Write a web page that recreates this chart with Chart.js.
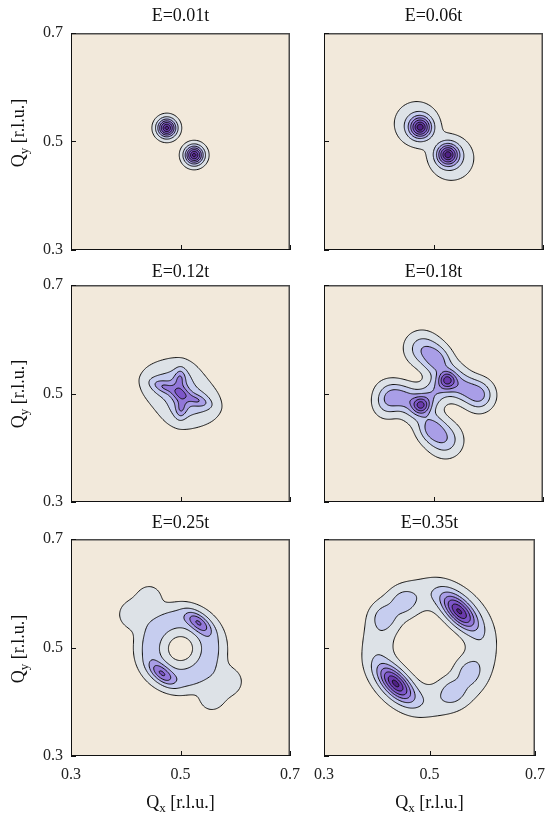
<!DOCTYPE html>
<html>
<head>
<meta charset="utf-8">
<title>Contours</title>
<script src="https://cdn.jsdelivr.net/npm/chart.js@4.4.1/dist/chart.umd.min.js"></script>
<style>
  html, body { margin: 0; padding: 0; background: #ffffff; }
  #figure { position: relative; width: 554px; height: 818px; }
  #figure canvas { position: absolute; left: 0; top: 0; }
</style>
</head>
<body>
<div id="figure"></div>
<script>
// captions and ticks
var panelTitles = ['E=0.01t', 'E=0.06t', 'E=0.12t', 'E=0.18t', 'E=0.25t', 'E=0.35t'];
var tickValues = [0.3, 0.5, 0.7];
// contour levels, and the fill used between them
var contourLevels = [0.06, 0.2, 0.36, 0.52, 0.68, 0.84, 0.96];
var levelColors = ['#f2e9db', '#dde2e7', '#c6cdef', '#a99ee7', '#9277d9', '#7d56c9', '#6a3aad', '#4f2185'];

// peaks: [Qx, Qy, height, width along, width across, angle in deg]
var peaks001 = [
    [0.475, 0.525, 1.0, 0.0115, 0.0115, 0],
    [0.525, 0.475, 1.0, 0.0115, 0.0115, 0]
];
var peaks006 = [
    [0.476, 0.526, 0.85, 0.013, 0.013, 0],
    [0.526, 0.476, 0.85, 0.013, 0.013, 0],
    [0.469, 0.533, 0.2, 0.026, 0.026, 0],
    [0.533, 0.469, 0.2, 0.026, 0.026, 0]
];
var peaks012 = [
    [0.5, 0.5, 0.2, 0.045, 0.035, -45],
    [0.466, 0.516, 0.16, 0.022, 0.016, -20],
    [0.534, 0.484, 0.16, 0.022, 0.016, -20],
    [0.5, 0.524, 0.16, 0.018, 0.015, 85],
    [0.5, 0.476, 0.16, 0.018, 0.015, 85],
    [0.5, 0.5, 0.3, 0.011, 0.009, -30],
    [0.499, 0.529, 0.22, 0.012, 0.0065, 85],
    [0.501, 0.471, 0.22, 0.012, 0.0065, 85],
    [0.47, 0.512, 0.22, 0.016, 0.0065, -20],
    [0.53, 0.488, 0.22, 0.016, 0.0065, -20]
];
var peaks018 = [
    [0.525, 0.525, 0.45, 0.01, 0.01, 0],
    [0.525, 0.525, 0.22, 0.02, 0.02, 0],
    [0.48, 0.582, 0.3, 0.02, 0.019, -40],
    [0.506, 0.562, 0.4, 0.018, 0.016, -55],
    [0.558, 0.509, 0.38, 0.024, 0.016, -25],
    [0.585, 0.496, 0.28, 0.016, 0.018, -10],
    [0.477, 0.478, 0.45, 0.01, 0.01, 0],
    [0.477, 0.478, 0.22, 0.02, 0.02, 0],
    [0.521, 0.415, 0.3, 0.02, 0.019, -60],
    [0.497, 0.435, 0.4, 0.018, 0.016, -55],
    [0.443, 0.493, 0.38, 0.024, 0.016, -25],
    [0.416, 0.485, 0.28, 0.016, 0.018, -10],
    [0.501, 0.501, 0.25, 0.03, 0.014, 45]
];
var peaks025 = [
    [0.466, 0.452, 0.42, 0.018, 0.009, -40],
    [0.533, 0.546, 0.42, 0.018, 0.009, -40],
    [0.416, 0.561, 0.15, 0.02, 0.019, 0],
    [0.443, 0.592, 0.13, 0.016, 0.016, 0],
    [0.584, 0.437, 0.15, 0.02, 0.019, 0],
    [0.557, 0.406, 0.13, 0.016, 0.016, 0]
];
var peaks035 = [
    [0.556, 0.566, 0.85, 0.028, 0.014, -45],
    [0.436, 0.434, 0.85, 0.028, 0.014, -45],
    [0.413, 0.556, 0.17, 0.016, 0.016, 0],
    [0.452, 0.584, 0.17, 0.016, 0.016, 0],
    [0.572, 0.456, 0.17, 0.016, 0.016, 0],
    [0.543, 0.42, 0.17, 0.016, 0.016, 0]
];
// rings: [Qx, Qy, radius, width, height]
var rings025 = [[0.5, 0.498, 0.054, 0.018, 0.29]];
var rings035 = [[0.5, 0.5, 0.098, 0.021, 0.15]];

var panelPeaks = [peaks001, peaks006, peaks012, peaks018, peaks025, peaks035];
var panelRings = [[], [], [], [], rings025, rings035];

// page layout (pixels)
var colLeft = [71, 324];
var rowTop = [33, 285, 539];
var panelWidth = 219;
var panelHeight = 217;
var yAxisBox = 40;
var xAxisBox = 30;
var titleBaseline = [21, 277, 528];
var yTitleCenter = [133, 394, 649];
var xTitleBaseline = 808;
var serif = '"Liberation Serif", "Times New Roman", serif';
var gridSize = 201;

function preparePeaks(peaks) {
    return peaks.map(function (p) {
        var a = p[5] * Math.PI / 180;
        return { x: p[0], y: p[1], h: p[2], ka: 0.5 / (p[3] * p[3]), kb: 0.5 / (p[4] * p[4]), c: Math.cos(a), s: Math.sin(a) };
    });
}

function fieldValue(peaks, rings, qx, qy) {
    var v = 0;
    for (var k = 0; k < peaks.length; k++) {
        var p = peaks[k];
        var dx = qx - p.x, dy = qy - p.y;
        var u = dx * p.c + dy * p.s;
        var w = -dx * p.s + dy * p.c;
        v += p.h * Math.exp(-(u * u * p.ka + w * w * p.kb));
    }
    for (var r = 0; r < rings.length; r++) {
        var g = rings[r];
        var d = Math.hypot(qx - g[0], qy - g[1]) - g[2];
        v += g[4] * Math.exp(-0.5 * d * d / (g[3] * g[3]));
    }
    return v;
}

function levelIndex(v) {
    var i = 0;
    while (i < contourLevels.length && v >= contourLevels[i]) i++;
    return i;
}

// marching squares, segments chained into polylines
function traceContours(peaks, rings) {
    var n = gridSize, q0 = 0.3, step = 0.4 / (n - 1);
    var vals = new Float64Array(n * n);
    for (var j = 0; j < n; j++) {
        for (var i = 0; i < n; i++) {
            vals[j * n + i] = fieldValue(peaks, rings, q0 + i * step, q0 + j * step);
        }
    }
    var out = [];
    contourLevels.forEach(function (L) {
        var segs = [];
        var byKey = {};
        function edgePoint(e) {
            var i = e[1], j = e[2], a, b, t;
            if (e[0] === 'h') {
                a = vals[j * n + i]; b = vals[j * n + i + 1]; t = (L - a) / (b - a);
                return { x: q0 + (i + t) * step, y: q0 + j * step };
            }
            a = vals[j * n + i]; b = vals[(j + 1) * n + i]; t = (L - a) / (b - a);
            return { x: q0 + i * step, y: q0 + (j + t) * step };
        }
        function addSeg(e1, e2) {
            var k1 = e1.join(','), k2 = e2.join(',');
            var idx = segs.length;
            segs.push({ k1: k1, k2: k2, p1: edgePoint(e1), p2: edgePoint(e2), used: false });
            (byKey[k1] = byKey[k1] || []).push(idx);
            (byKey[k2] = byKey[k2] || []).push(idx);
        }
        for (var j = 0; j < n - 1; j++) {
            for (var i = 0; i < n - 1; i++) {
                var v00 = vals[j * n + i], v10 = vals[j * n + i + 1];
                var v11 = vals[(j + 1) * n + i + 1], v01 = vals[(j + 1) * n + i];
                var c00 = v00 >= L, c10 = v10 >= L, c11 = v11 >= L, c01 = v01 >= L;
                var bottom = ['h', i, j], right = ['v', i + 1, j], top = ['h', i, j + 1], left = ['v', i, j];
                var cross = [];
                if (c00 !== c10) cross.push(bottom);
                if (c10 !== c11) cross.push(right);
                if (c01 !== c11) cross.push(top);
                if (c00 !== c01) cross.push(left);
                if (cross.length === 2) {
                    addSeg(cross[0], cross[1]);
                } else if (cross.length === 4) {
                    var centreHigh = (v00 + v10 + v11 + v01) / 4 >= L;
                    if (c00 === centreHigh) { addSeg(bottom, right); addSeg(top, left); }
                    else { addSeg(bottom, left); addSeg(right, top); }
                }
            }
        }
        function nextSeg(key) {
            var list = byKey[key] || [];
            for (var m = 0; m < list.length; m++) if (!segs[list[m]].used) return list[m];
            return -1;
        }
        segs.forEach(function (s) {
            if (s.used) return;
            s.used = true;
            var line = [s.p1, s.p2];
            var key = s.k2, nx;
            while ((nx = nextSeg(key)) >= 0) {
                var t = segs[nx]; t.used = true;
                if (t.k1 === key) { line.push(t.p2); key = t.k2; } else { line.push(t.p1); key = t.k1; }
            }
            key = s.k1;
            while ((nx = nextSeg(key)) >= 0) {
                var t2 = segs[nx]; t2.used = true;
                if (t2.k1 === key) { line.unshift(t2.p2); key = t2.k2; } else { line.unshift(t2.p1); key = t2.k1; }
            }
            line.forEach(function (p) { out.push(p); });
            out.push({ x: NaN, y: NaN });
        });
    });
    return out;
}

function hexToRgb(h) {
    return [parseInt(h.substr(1, 2), 16), parseInt(h.substr(3, 2), 16), parseInt(h.substr(5, 2), 16)];
}
var levelRgb = levelColors.map(hexToRgb);

function drawQLabel(ctx, sub, cx, baseline) {
    ctx.textAlign = 'left';
    ctx.textBaseline = 'alphabetic';
    var big = '18px ' + serif, small = '13px ' + serif;
    ctx.font = big; var wq = ctx.measureText('Q').width; var wr = ctx.measureText(' [r.l.u.]').width;
    ctx.font = small; var ws = ctx.measureText(sub).width;
    var x = cx - (wq + ws + wr) / 2;
    ctx.font = big; ctx.fillText('Q', x, baseline);
    ctx.font = small; ctx.fillText(sub, x + wq, baseline + 4);
    ctx.font = big; ctx.fillText(' [r.l.u.]', x + wq + ws, baseline);
}

function panelPlugin(idx, col, row) {
    var peaks = preparePeaks(panelPeaks[idx]);
    var rings = panelRings[idx];
    return {
        id: 'panel' + idx,
        beforeDatasetsDraw: function (chart) {
            var area = chart.chartArea, xs = chart.scales.x, ys = chart.scales.y, ctx = chart.ctx;
            var left = Math.round(area.left), top = Math.round(area.top);
            var w = Math.round(area.right) - left, h = Math.round(area.bottom) - top;
            var img = ctx.createImageData(w, h);
            for (var py = 0; py < h; py++) {
                var qy = ys.getValueForPixel(top + py + 0.5);
                for (var px = 0; px < w; px++) {
                    var qx = xs.getValueForPixel(left + px + 0.5);
                    var c = levelRgb[levelIndex(fieldValue(peaks, rings, qx, qy))];
                    var o = (py * w + px) * 4;
                    img.data[o] = c[0]; img.data[o + 1] = c[1]; img.data[o + 2] = c[2]; img.data[o + 3] = 255;
                }
            }
            ctx.putImageData(img, left, top);
        },
        afterDatasetsDraw: function (chart) {
            var a = chart.chartArea, ctx = chart.ctx, xs = chart.scales.x, ys = chart.scales.y;
            ctx.save();
            ctx.strokeStyle = '#4a4a4a';
            ctx.lineWidth = 1.5;
            ctx.beginPath();
            ctx.moveTo(a.left, a.top + 0.75); ctx.lineTo(a.right - 0.75, a.top + 0.75); ctx.lineTo(a.right - 0.75, a.bottom);
            ctx.stroke();
            ctx.strokeStyle = '#111111';
            ctx.lineWidth = 1;
            ctx.beginPath();
            ctx.moveTo(a.left + 0.5, a.top); ctx.lineTo(a.left + 0.5, a.bottom - 0.5); ctx.lineTo(a.right, a.bottom - 0.5);
            tickValues.forEach(function (v) {
                var px = Math.round(xs.getPixelForValue(v)) + 0.5;
                var py = Math.round(ys.getPixelForValue(v)) + 0.5;
                ctx.moveTo(px, a.bottom); ctx.lineTo(px, a.bottom - 5);
                ctx.moveTo(a.left, py); ctx.lineTo(a.left + 5, py);
            });
            ctx.stroke();
            ctx.restore();
        },
        afterDraw: function (chart) {
            var a = chart.chartArea, ctx = chart.ctx;
            ctx.save();
            ctx.fillStyle = '#111111';
            ctx.font = '18px ' + serif;
            ctx.textAlign = 'center';
            ctx.textBaseline = 'alphabetic';
            ctx.fillText(panelTitles[idx], (a.left + a.right) / 2, titleBaseline[row]);
            if (col === 0) {
                ctx.save();
                ctx.translate(24, yTitleCenter[row]);
                ctx.rotate(-Math.PI / 2);
                drawQLabel(ctx, 'y', 0, 0);
                ctx.restore();
            }
            if (row === 2) {
                drawQLabel(ctx, 'x', (a.left + a.right) / 2, xTitleBaseline);
            }
            ctx.restore();
        }
    };
}

function buildPanel(idx) {
    var col = idx % 2, row = Math.floor(idx / 2);
    var L = colLeft[col], T = rowTop[row];
    var canvas = document.createElement('canvas');
    canvas.width = 554; canvas.height = 818;
    canvas.style.width = '554px'; canvas.style.height = '818px';
    document.getElementById('figure').appendChild(canvas);
    var lines = traceContours(preparePeaks(panelPeaks[idx]), panelRings[idx]);
    var tickFont = { family: serif, size: 16 };
    new Chart(canvas.getContext('2d'), {
        type: 'scatter',
        data: {
            datasets: [{
                data: lines,
                showLine: true,
                spanGaps: false,
                borderColor: '#111111',
                borderWidth: 1,
                borderDash: [4000, 0],
                pointRadius: 0,
                pointHoverRadius: 0
            }]
        },
        plugins: [panelPlugin(idx, col, row)],
        options: {
            responsive: false,
            animation: false,
            devicePixelRatio: 1,
            events: [],
            layout: {
                autoPadding: false,
                padding: {
                    left: L - yAxisBox,
                    top: T,
                    right: 554 - L - panelWidth,
                    bottom: 818 - T - panelHeight - xAxisBox
                }
            },
            plugins: { legend: { display: false }, tooltip: { enabled: false }, title: { display: false } },
            scales: {
                x: {
                    type: 'linear', position: 'bottom', min: 0.3, max: 0.7,
                    grid: { display: false, drawTicks: false }, border: { display: false },
                    afterBuildTicks: function (s) { s.ticks = tickValues.map(function (v) { return { value: v }; }); },
                    afterFit: function (s) { s.height = xAxisBox; },
                    ticks: {
                        display: row === 2, font: tickFont, color: '#222222', padding: 9,
                        autoSkip: false, maxRotation: 0,
                        callback: function (v) { return Number(v).toFixed(1); }
                    }
                },
                y: {
                    type: 'linear', position: 'left', min: 0.3, max: 0.7,
                    grid: { display: false, drawTicks: false }, border: { display: false },
                    afterBuildTicks: function (s) { s.ticks = tickValues.map(function (v) { return { value: v }; }); },
                    afterFit: function (s) { s.width = yAxisBox; },
                    ticks: {
                        display: col === 0, font: tickFont, color: '#222222', padding: 8,
                        autoSkip: false,
                        callback: function (v) { return Number(v).toFixed(1); }
                    }
                }
            }
        }
    });
}

for (var p = 0; p < 6; p++) buildPanel(p);
</script>
</body>
</html>
